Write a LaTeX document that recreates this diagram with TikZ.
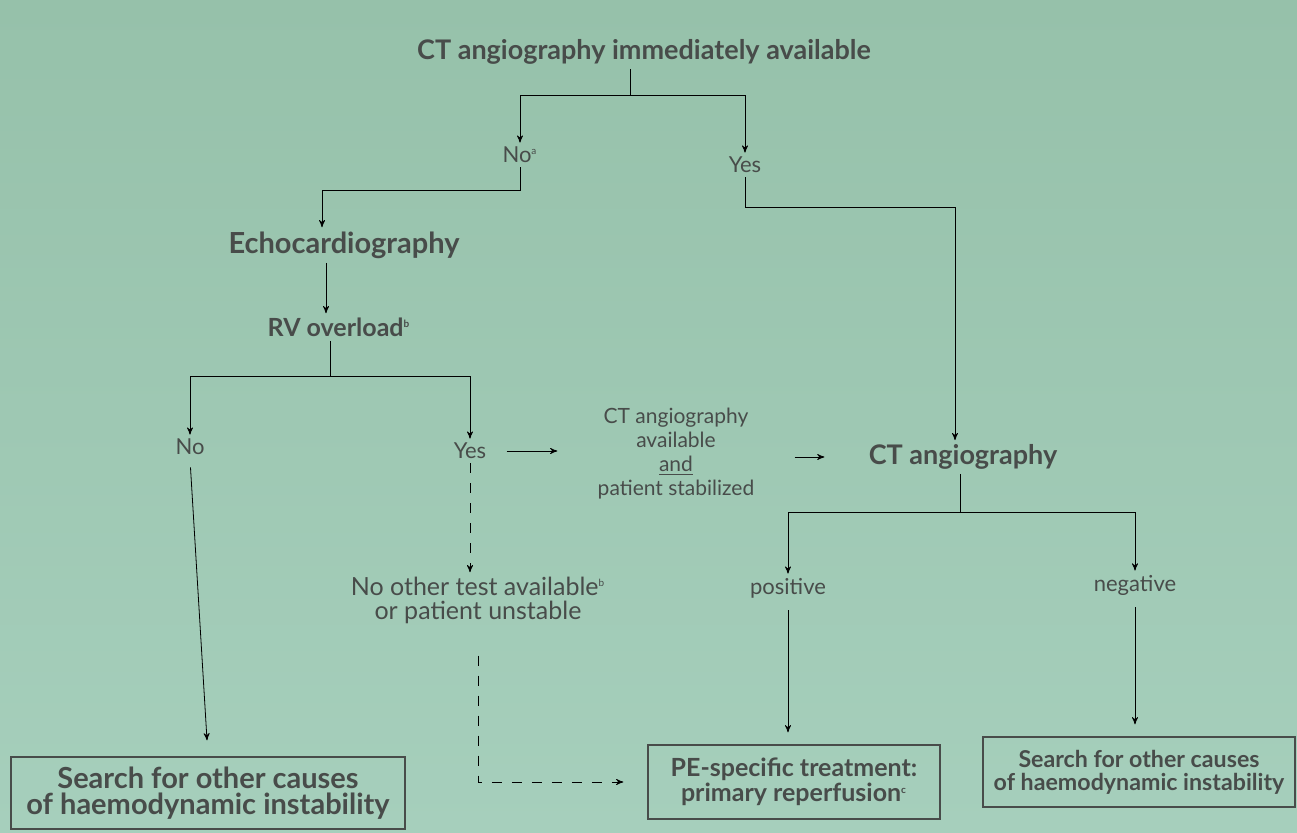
\documentclass[tikz,border=0pt]{standalone}
\usepackage{fontspec}
\setmainfont{Lato}
\usepackage{tikz}
\usetikzlibrary{positioning, arrows}
\definecolor{slidetop}{RGB}{150,193,170}
\definecolor{slidebot}{RGB}{166,207,188}
\definecolor{ink}{RGB}{72,76,74}
\newcommand{\fnmark}[1]{\textsuperscript{\tiny #1}}
\tikzset{
->, % makes the connectors directed
>=stealth', % small filled arrow heads
line width=0.9pt,
draw=ink,
every node/.style={text=ink}, % dark grey print on the slide
choice/.style={align=center, inner sep=2pt, font=\fontsize{11}{12}\selectfont}, % plain answers
question/.style={align=center, inner sep=2pt, font=\bfseries\fontsize{13.5}{15}\selectfont}, % bold steps
outcome/.style={draw=ink, line width=0.7pt, align=center, inner sep=3pt}, % boxed end points
}

\begin{document}
\begin{tikzpicture}[x=0.5pt, y=-0.5pt]
            \fill[-, top color=slidetop, bottom color=slidebot] (0,0) rectangle (1297,833);
            \useasboundingbox (0,0) rectangle (1297,833);

            \node[question] (cta) at (644,52) {CT angiography immediately available};
            \node[choice] (noa) at (520,155) {No\fnmark{a}};
            \node[choice] (yesa) at (745,165) {Yes};
            \node[question, font=\bfseries\fontsize{14.5}{16}\selectfont] (echo) at (344,245) {Echocardiography};
            \node[question, font=\bfseries\fontsize{12.5}{14}\selectfont] (rv) at (339,327) {RV overload\fnmark{b}};
            \node[choice] (nob) at (190,447) {No};
            \node[choice] (yesb) at (470,451) {Yes};
            \node[choice, font=\fontsize{10.5}{12}\selectfont] (stable) at (676,454) {CT angiography\\available\\\underline{and}\\patient stabilized};
            \node[question] (ctb) at (963,457) {CT angiography};
            \node[choice] (pos) at (788,588) {positive};
            \node[choice] (neg) at (1135,585) {negative};
            \node[choice, font=\fontsize{12.5}{12}\selectfont] (unstable) at (478,600) {No other test available\fnmark{b}\\or patient unstable};
            \node[outcome, minimum width=197pt, minimum height=36pt,
                  font=\bfseries\fontsize{14.5}{13}\selectfont] (otherl) at (208,793)
                  {Search for other causes\\of haemodynamic instability};
            \node[outcome, minimum width=146pt, minimum height=37pt,
                  font=\bfseries\fontsize{12.5}{12.5}\selectfont] (treat) at (794,782)
                  {PE-specific treatment:\\primary reperfusion\fnmark{c}};
            \node[outcome, minimum width=156pt, minimum height=35pt,
                  font=\bfseries\fontsize{11.6}{11.5}\selectfont] (otherr) at (1139,772)
                  {Search for other causes\\of haemodynamic instability};

            \coordinate (forka) at (630,95);
            \coordinate (bendno) at (520,190);
            \coordinate (bendyes) at (955,207);
            \coordinate (forkb) at (330,376);
            \coordinate (forkc) at (960,512);

            \draw (cta.south -| forka) -- (forka) -| (noa.north);
            \draw (forka) -| (yesa.north);
            \draw (noa.south) -- (bendno) -| ([xshift=-11pt]echo.north);
            \draw (yesa.south) |- (bendyes) -- (bendyes |- ctb.north);
            \draw ([xshift=-9pt]echo.south) -- ([xshift=-9pt]echo.south |- rv.north);
            \draw (rv.south -| forkb) -- (forkb) -| (nob.north);
            \draw (forkb) -| (yesb.north);
            \draw[shorten <=8pt, shorten >=18pt] (yesb.east) -- (yesb.east -| stable.west);
            \draw[shorten <=18pt, shorten >=20pt] (stable.east |- ctb) -- (ctb.west);
            \draw (ctb.south -| forkc) -- (forkc) -| (pos.north);
            \draw (forkc) -| (neg.north);
            \draw[shorten <=4pt, shorten >=8pt] (nob.south) -- (otherl.north);
            \draw[shorten <=4pt, shorten >=6pt] (pos.south) -- (pos.south |- treat.north);
            \draw[shorten <=4pt, shorten >=6pt] (neg.south) -- (neg.south |- otherr.north);
            \draw[dash pattern=on 5pt off 5pt] (yesb.south) -- (yesb.south |- unstable.north);
            \draw[dash pattern=on 5pt off 5pt, shorten <=14pt, shorten >=12pt] (unstable.south) |- (treat.west);
            \end{tikzpicture}
\end{document}
